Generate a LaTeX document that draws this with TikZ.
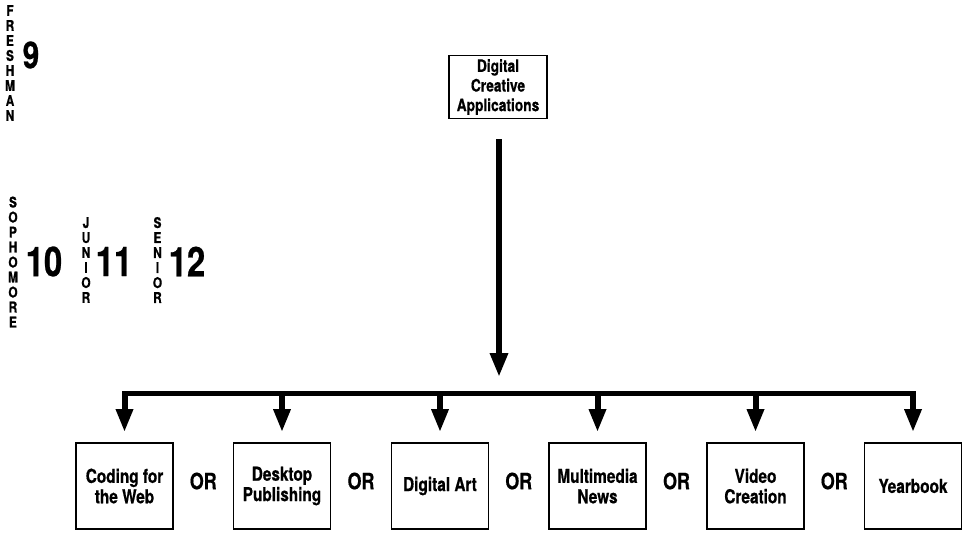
\documentclass[tikz,border=0pt]{standalone}
\usepackage{fontspec}
\setmainfont{TeX Gyre Heros}[FakeStretch=0.8, BoldFeatures={FakeBold=0.6}]
\usepackage{tikz}
\usetikzlibrary{arrows.meta,calc}

\tikzset{
  course/.style={draw, line width=0.8pt, minimum width=48.5pt, minimum height=43pt,
    inner sep=1pt, align=center, font=\bfseries\fontsize{9.6}{10.2}\selectfont},
  orlabel/.style={font=\bfseries\fontsize{11.2}{12}\selectfont, yshift=2.5pt},
  yearword/.style={align=center, inner sep=0pt, font=\bfseries\fontsize{7.4}{7.5}\selectfont},
  grade/.style={inner sep=0pt, font=\bfseries\fontsize{20.5}{21}\selectfont},
  trunk/.style={line width=3pt, -{Triangle[length=12pt,width=8.5pt]}},
  branch/.style={line width=3pt, -{Triangle[length=11.5pt,width=8pt]}, shorten >=5pt}
}

\begin{document}
\begin{tikzpicture}[x=0.5pt,y=-0.5pt]
\useasboundingbox (0,0) rectangle (967,532);

% grade labels
\node[yearword] (fresh) at (10,63) {F\\R\\E\\S\\H\\M\\A\\N};
\node[grade, font=\bfseries\fontsize{18.5}{19}\selectfont] (g9) at (31,55) {9};
\node[yearword] (soph) at (13,262) {S\\O\\P\\H\\O\\M\\O\\R\\E};
\node[grade] (g10) at (44,261.5) {10};
\node[yearword] (jun) at (86,260) {J\\U\\N\\I\\O\\R};
\node[grade] (g11) at (114,261.5) {11};
\node[yearword] (sen) at (157.5,260) {S\\E\\N\\I\\O\\R};
\node[grade] (g12) at (187,261.5) {12};

% courses
\node[course, minimum width=49pt, minimum height=31.5pt,
  font=\bfseries\fontsize{8.6}{9.8}\selectfont] (dca) at (498,87) {Digital\\Creative\\Applications};
\node[course] (web) at (124.5,486) {Coding for\\the Web};
\node[course] (dtp) at (282,486) {Desktop\\Publishing};
\node[course] (art) at (440,486) {Digital Art};
\node[course] (news) at (597.5,486) {Multimedia\\News};
\node[course] (video) at (755.5,486) {Video\\Creation};
\node[course] (yearbook) at (913,486) {Yearbook};

\node[orlabel] (or1) at ($(web)!0.5!(dtp)$) {OR};
\node[orlabel] (or2) at ($(dtp)!0.5!(art)$) {OR};
\node[orlabel] (or3) at ($(art)!0.5!(news)$) {OR};
\node[orlabel] (or4) at ($(news)!0.5!(video)$) {OR};
\node[orlabel] (or5) at ($(video)!0.5!(yearbook)$) {OR};

% arrows
\coordinate (bar) at (499,393.5);
\draw[trunk, shorten >=8.25pt] ([yshift=-10pt]dca.south -| bar) -- (bar);
\draw[line width=2.5pt, line cap=rect] (web.north |- bar) -- (yearbook.north |- bar);
\foreach \b in {web,dtp,art,news,video,yearbook}
  \draw[branch] (\b.north |- bar) -- (\b.north);
\end{tikzpicture}
\end{document}
